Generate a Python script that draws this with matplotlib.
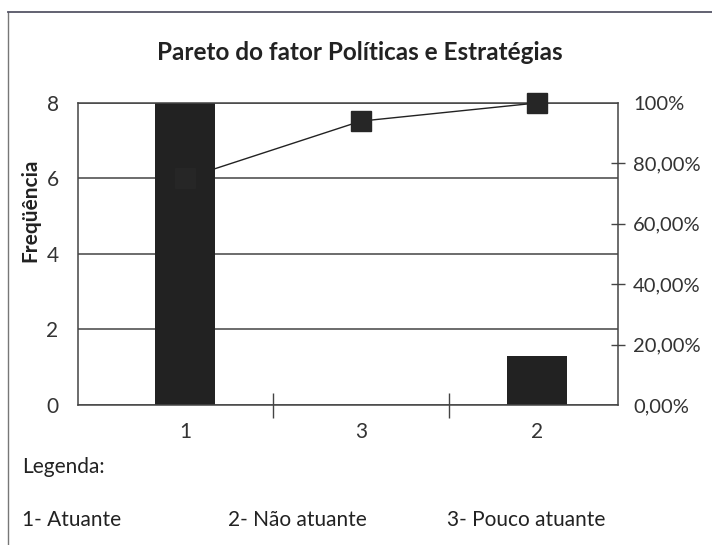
import matplotlib.pyplot as plt
from matplotlib.ticker import FixedLocator

# data
categorias = ["1", "3", "2"]
frequencia = [8, 0, 1.3]
acumulado = [75, 94, 100]  # percent, pareto line
yticks_esq = [0, 2, 4, 6, 8]
yticks_dir = [0, 20, 40, 60, 80, 100]
yticks_dir_lbl = ["0,00%", "20,00%", "40,00%", "60,00%", "80,00%", "100%"]
legenda = ["1- Atuante", "2- Não atuante", "3- Pouco atuante"]

plt.rcParams["font.family"] = ["Lato", "DejaVu Sans"]

fig = plt.figure(figsize=(7.12, 5.45), dpi=100)
ax = fig.add_axes([0.1096, 0.257, 0.758, 0.554])

x = list(range(len(categorias)))
ax.bar(x, frequencia, width=0.34, color="#222222", zorder=2)
ax.set_xlim(-0.608, 2.46)
ax.set_ylim(0, 8)
ax.set_yticks(yticks_esq)
ax.yaxis.grid(True, color="#444444", linewidth=1.1, zorder=0)
ax.tick_params(axis="y", length=0, pad=14, labelsize=15, colors="#333333")
ax.set_xticks(x)
ax.set_xticklabels(categorias)
ax.tick_params(axis="x", which="major", length=0, pad=12, labelsize=15, colors="#333333")
ax.xaxis.set_minor_locator(FixedLocator([0.5, 1.5]))
ax.tick_params(axis="x", which="minor", direction="inout", length=18, width=1, color="#444444")
for s in ax.spines.values():
    s.set_color("#444444")
    s.set_linewidth(1.1)

ax2 = ax.twinx()
ax2.plot(x, acumulado, color="#222222", linewidth=1, marker="s", markersize=14,
         markerfacecolor="#262626", markeredgecolor="#262626", zorder=3, clip_on=False)
ax2.set_ylim(0, 100)
ax2.set_yticks(yticks_dir)
ax2.set_yticklabels(yticks_dir_lbl)
ax2.tick_params(axis="y", direction="inout", length=10, width=1, color="#444444",
                pad=6, labelsize=14.5, labelcolor="#333333")
for t in (ax2.yaxis.get_major_ticks()[0], ax2.yaxis.get_major_ticks()[-1]):
    t.tick2line.set_visible(False)
for s in ax2.spines.values():
    s.set_visible(False)

fig.text(0.505, 1 - 52 / 545, "Pareto do fator Políticas e Estratégias", ha="center", va="center",
         fontsize=17.5, fontweight="bold", color="#222222")
fig.text(30 / 712, 1 - 210 / 545, "Freqüência", rotation=90, ha="center", va="center",
         fontsize=15, fontweight="bold", color="#222222")

fig.text(22 / 712, 1 - 467 / 545, "Legenda:", ha="left", va="center", fontsize=15, color="#222222")
for lbl, xp in zip(legenda, [22, 228, 447]):
    fig.text(xp / 712, 1 - 520 / 545, lbl, ha="left", va="center", fontsize=15, color="#222222")

# scanned page frame
fig.add_artist(plt.Line2D([8 / 712, 8 / 712], [0, 1 - 12 / 545], color="#777777", linewidth=1))
fig.add_artist(plt.Line2D([8 / 712, 1], [1 - 12 / 545, 1 - 12 / 545], color="#555566", linewidth=1.3))

fig.savefig("out.png", dpi=100)
